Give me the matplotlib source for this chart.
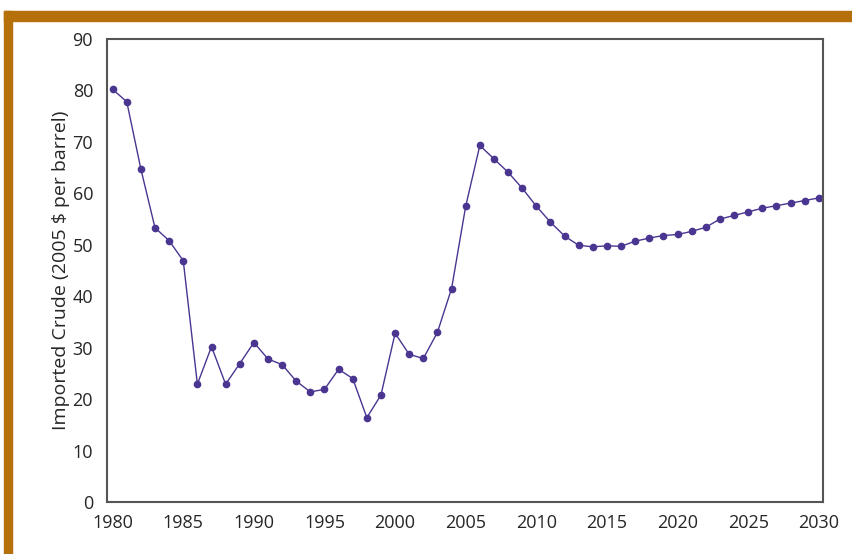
import matplotlib
matplotlib.use("Agg")
import numpy as np
import matplotlib.pyplot as plt
from matplotlib.patches import Rectangle

# imported crude oil price, 2005 dollars per barrel (history + projection)
years = list(range(1980, 2031))
price = [80.2, 77.8, 64.7, 53.3, 50.8, 46.9, 22.9, 30.2, 22.9, 26.9,
         31.0, 27.8, 26.7, 23.5, 21.4, 21.9, 25.8, 24.0, 16.4, 20.8,
         32.8, 28.7, 27.9, 33.0, 41.5, 57.5, 69.3, 66.7, 64.1, 61.0,
         57.5, 54.4, 51.7, 49.9, 49.6, 49.8, 49.7, 50.7, 51.3, 51.8,
         52.0, 52.6, 53.4, 55.0, 55.7, 56.4, 57.1, 57.6, 58.1, 58.6,
         59.1]
xticks = [1980, 1985, 1990, 1995, 2000, 2005, 2010, 2015, 2020, 2025, 2030]
yticks = [0, 10, 20, 30, 40, 50, 60, 70, 80, 90]

plt.rcParams['font.family'] = ['Open Sans', 'DejaVu Sans']

fig = plt.figure(figsize=(8.53, 5.54), dpi=100)

# orange frame along the top and left edge
border = '#b5700c'
fig.patches.append(Rectangle((4 / 853, 0), 8 / 853, 1 - 11 / 554,
                             transform=fig.transFigure, color=border, zorder=0))
fig.patches.append(Rectangle((4 / 853, 1 - 21 / 554), 1, 10 / 554,
                             transform=fig.transFigure, color=border, zorder=0))

ax = fig.add_axes([107 / 853, 52 / 554, 716 / 853, 463 / 554])
ax.plot(years, price, color='#4a3590', lw=1.0, marker='o', ms=4.5,
        mec='#4a3590', mfc='#4a3590')

ax.set_xlim(1979.6, 2030.3)
ax.set_ylim(0, 90)
ax.set_xticks(xticks)
ax.set_yticks(yticks)
ax.tick_params(length=0, labelsize=13, colors='#262626', pad=10)
ax.tick_params(axis='x', pad=9)
for s in ax.spines.values():
    s.set_color('#555555')
    s.set_linewidth(1.5)

ax.set_ylabel('Imported Crude (2005 $ per barrel)', fontsize=14,
              color='#262626', labelpad=2)

fig.savefig('out.png', dpi=100)
